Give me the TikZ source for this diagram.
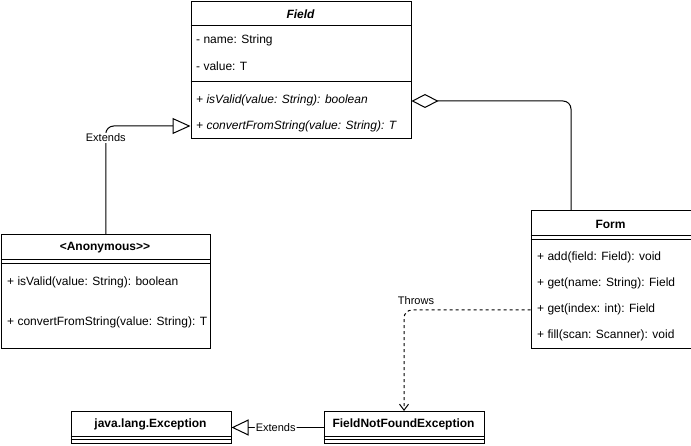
\documentclass[tikz,border=0pt]{standalone}
\usepackage{fontspec}
\setmainfont{Liberation Sans}
\usetikzlibrary{arrows.meta,calc}
\begin{document}
\begin{tikzpicture}[x=1pt,y=-1pt,
  box/.style={draw, line width=1pt, inner sep=0pt, anchor=north west},
  sepline/.style={line width=1pt},
  txt/.style={anchor=west, inner sep=0pt, font=\fontsize{12}{14}\selectfont},
  itxt/.style={txt, font=\fontsize{12}{14}\selectfont\itshape},
  ttl/.style={anchor=center, inner sep=0pt, font=\fontsize{12}{14}\selectfont\bfseries},
  lbl/.style={fill=white, inner sep=1pt, font=\fontsize{11}{13}\selectfont},
  conn/.style={line width=1pt, rounded corners=8pt},
  dashconn/.style={conn, dash pattern=on 3pt off 3pt},
]
\useasboundingbox (0,0) rectangle (691,446);

% Field
\node[box, minimum width=220pt, minimum height=137pt] (field) at (190.5,1) {};
\draw[sepline] (190.5,26) -- (410.5,26);
\draw[sepline] (190.5,82) -- (410.5,82);
\node[ttl, font=\fontsize{12}{14}\selectfont\bfseries\itshape] (fieldt) at (300.5,14) {Field};
\node[txt] (f1) at (196,40) {- name: String};
\node[txt] (f2) at (196,66) {- value: T};
\node[itxt] (f3) at (196,100) {+ isValid(value: String): boolean};
\node[itxt] (f4) at (196,126) {+ convertFromString(value: String): T};

% Anonymous
\node[box, minimum width=209.5pt, minimum height=114pt] (anon) at (0.5,234) {};
\draw[sepline] (0.5,260) -- (210,260);
\draw[sepline] (0.5,263.5) -- (210,263.5);
\node[ttl] (anont) at (105,248) {\mbox{<}Anonymous\mbox{>}\mbox{>}};
\node[txt] (a1) at (7,282) {+ isValid(value: String): boolean};
\node[txt] (a2) at (7,322) {+ convertFromString(value: String): T};

% Form
\node[box, minimum width=160pt, minimum height=138pt] (form) at (530.5,210) {};
\draw[sepline] (530.5,236) -- (690.5,236);
\draw[sepline] (530.5,239.5) -- (690.5,239.5);
\node[ttl] (formt) at (610.5,224) {Form};
\node[txt] (m1) at (537,257) {+ add(field: Field): void};
\node[txt] (m2) at (537,283) {+ get(name: String): Field};
\node[txt] (m3) at (537,309) {+ get(index: int): Field};
\node[txt] (m4) at (537,335) {+ fill(scan: Scanner): void};

% java.lang.Exception
\node[box, minimum width=160pt, minimum height=32pt] (exc) at (70.5,411) {};
\draw[sepline] (70.5,436) -- (230.5,436);
\draw[sepline] (70.5,439.5) -- (230.5,439.5);
\node[ttl] (exct) at (150.5,424) {java.lang.Exception};

% FieldNotFoundException
\node[box, minimum width=160pt, minimum height=32pt] (fnf) at (323.5,411) {};
\draw[sepline] (323.5,436) -- (483.5,436);
\draw[sepline] (323.5,439.5) -- (483.5,439.5);
\node[ttl] (fnft) at (403.5,424) {FieldNotFoundException};

% Connectors
\draw[conn, -{Triangle[open,length=18pt,width=16pt]}]
  (anon.north) |- ([yshift=13pt]field.south west)
  node[pos=0.445, lbl] {Extends};

\draw[conn, {Diamond[open,length=27pt,width=14pt]}-]
  ([yshift=38pt]field.south east) -| ([xshift=-40pt]form.north);

\draw[dashconn, -{Straight Barb[length=6pt,width=9pt]}]
  ([yshift=39pt]form.south west) -| (fnf.north);
\node[lbl, fill=none] (throws) at (416,301) {Throws};

\draw[conn, -{Triangle[open,length=17pt,width=16pt]}]
  (fnf.west) -- (exc.east)
  node[pos=0.52, lbl] {Extends};
\end{tikzpicture}
\end{document}
